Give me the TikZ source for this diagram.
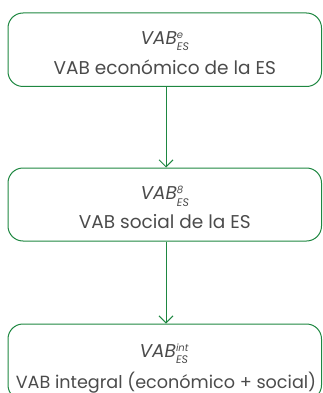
\documentclass[tikz,border=0pt]{standalone}
\usepackage{fontspec}
\setmainfont{Poppins}
\usetikzlibrary{arrows.meta}
\definecolor{lgreen}{RGB}{30,135,65}
\definecolor{tgray}{RGB}{75,75,75}
\newcommand\mysupsub[3]{\mbox{\rlap{\raisebox{6pt}{\fontsize{10}{10}\selectfont\itshape #1}}\rlap{\raisebox{-6.5pt}{\fontsize{11}{11}\selectfont\itshape #2}}\phantom{\fontsize{11}{11}\selectfont\itshape #3}}}
\begin{document}
\begin{tikzpicture}[x=1pt,y=1pt,
  box/.style={draw=lgreen, line width=1pt, rounded corners=15pt, minimum width=313.5pt, inner sep=0pt},
  lbl/.style={text=tgray, font=\fontsize{18.5}{18.5}\selectfont, anchor=base, inner sep=0pt},
  conn/.style={draw=lgreen, line width=1pt, -{Straight Barb[length=7pt,width=14pt,line width=1pt]}}]
\useasboundingbox (0,0) rectangle (322,-393);
\clip (0,0) rectangle (322,-393);
\node[box, minimum height=73.5pt] (b1) at (164.75,-49.75) {};
\node[box, minimum height=73pt] (b2) at (164.75,-204.5) {};
\node[box, minimum height=76pt] (b3) at (164.75,-362) {};
\node[lbl] (b1a) at (164.75,-44.5) {\itshape VAB\mysupsub{e}{ES}{ES}};
\node[lbl] (b1b) at (164.75,-75) {VAB económico de la ES};
\node[lbl] (b2a) at (164.75,-199.5) {\itshape VAB\mysupsub{8}{ES}{ES}};
\node[lbl] (b2b) at (164.75,-228.5) {VAB social de la ES};
\node[lbl] (b3a) at (164.75,-357) {\itshape VAB\mysupsub{int}{ES}{int}};
\node[lbl, font=\fontsize{17.6}{17.6}\selectfont] (b3b) at (166,-388) {VAB integral (económico + social)};
\draw[conn] ([xshift=1.25pt]b1.south) -- ([xshift=1.25pt]b2.north);
\draw[conn] ([xshift=1.25pt]b2.south) -- ([xshift=1.25pt]b3.north);
\end{tikzpicture}
\end{document}
